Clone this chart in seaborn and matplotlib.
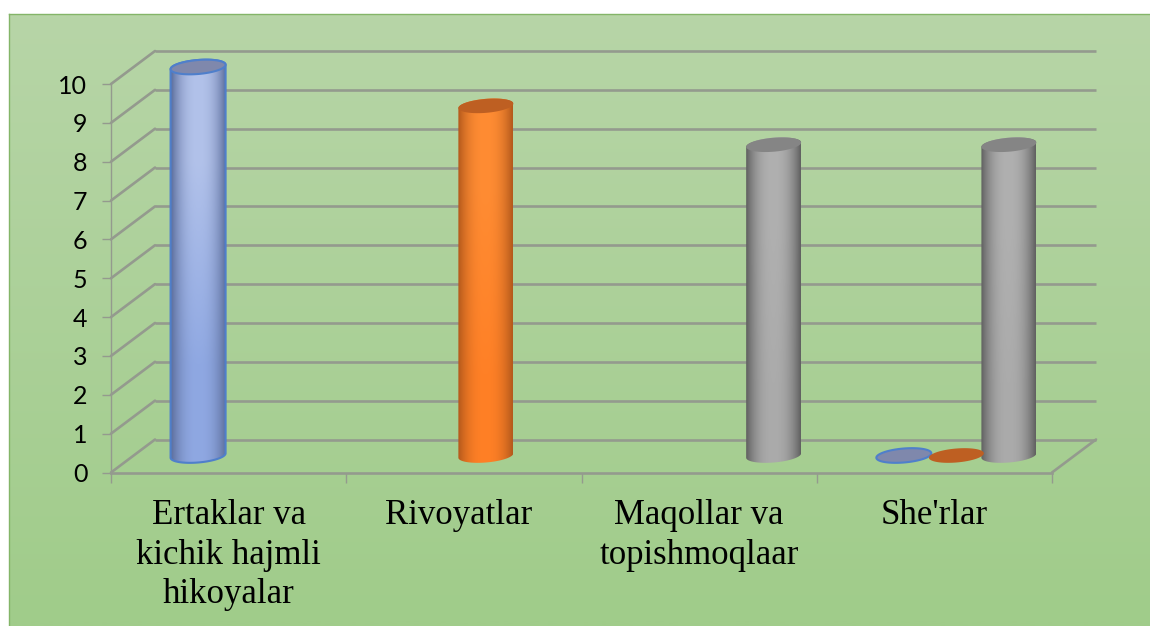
import numpy as np
import pandas as pd
import matplotlib
matplotlib.use('Agg')
import matplotlib.pyplot as plt
from matplotlib.colors import to_rgb
from matplotlib.patches import Polygon
from matplotlib.transforms import Affine2D, IdentityTransform
import seaborn as sns

categories = ["Ertaklar va\nkichik hajmli\nhikoyalar", "Rivoyatlar", "Maqollar va\ntopishmoqlaar", "She'rlar"]
series_names = ["Qator 1", "Qator 2", "Qator 3"]
series_1 = [10, np.nan, np.nan, 0]
series_2 = [np.nan, 9, np.nan, 0]
series_3 = [np.nan, np.nan, 8, 8]
y_ticks = list(range(11))

# center colour top, center colour bottom, side colour, cap colour, outline
bar_styles = [
    ("#B2C2EA", "#8FA8E2", "#5F719F", "#7F88AC", "#4F7FCB"),
    ("#FF8C33", "#FF8026", "#B55A1C", "#BE5F22", "none"),
    ("#B0B0B0", "#ABABAB", "#626262", "#858585", "none"),
]
grid_col = "#949A8E"

W, H = 1150, 626
sns.set_theme(style="white")
plt.rcParams['font.family'] = ['Lato', 'DejaVu Sans']

df = pd.DataFrame({
    "kategoriya": categories * 3,
    "qator": np.repeat(series_names, 4),
    "qiymat": series_1 + series_2 + series_3,
})

fig = plt.figure(figsize=(W / 100, H / 100), dpi=100, facecolor="white")

# green panel behind the chart
bg = fig.add_axes([8.5 / W, 0, 1 - 8.5 / W, (H - 13.5) / H], zorder=-1)
top_c = np.array(to_rgb("#B7D5A7"))
bot_c = np.array(to_rgb("#A0CC8A"))
grad = np.linspace(0, 1, 64)[:, None, None] * (bot_c - top_c) + top_c
bg.imshow(grad, aspect="auto", interpolation="bilinear")
bg.set_xticks([])
bg.set_yticks([])
for side in ["right", "bottom"]:
    bg.spines[side].set_visible(False)
for side in ["left", "top"]:
    bg.spines[side].set_color("#84B568")
    bg.spines[side].set_linewidth(1.0)

ax = fig.add_axes([111 / W, (H - 472.5) / H, 941 / W, 388.5 / H], zorder=1)
ax.patch.set_visible(False)
sns.barplot(data=df, x="kategoriya", y="qiymat", hue="qator", hue_order=series_names,
            order=categories, width=0.67, ax=ax, legend=False)
ax.set_xlim(-0.5, 3.5)
ax.set_ylim(0, 10)

back = 44, 33     # depth of the back wall, pixels
mid = 22, 17      # where the cylinders stand
shift = ax.transData + Affine2D().translate(*back)
px = IdentityTransform()

# back wall lines and the slanted ones to the front
ax.hlines(y_ticks, -0.5, 3.5, transform=shift, color=grid_col, lw=1.9, clip_on=False, zorder=1)
for v in y_ticks:
    x0, y0 = ax.transData.transform((-0.5, v))
    ax.plot([x0, x0 + back[0]], [y0, y0 + back[1]], transform=px, color=grid_col,
            lw=1.9, clip_on=False, zorder=1, scalex=False, scaley=False)
x0, y0 = ax.transData.transform((3.5, 0))
ax.plot([x0, x0 + back[0]], [y0, y0 + back[1]], transform=px, color=grid_col,
        lw=1.9, clip_on=False, zorder=1, scalex=False, scaley=False)


def half_ellipse(cx, cy, rx, ry, start, stop):
    t = np.linspace(start, stop, 60)
    xs = cx + rx * np.cos(t)
    ys = cy + ry * np.sin(t) + 0.08 * rx * np.cos(t)
    return np.column_stack([xs, ys])


rx, ry = 27.5, 7
u = np.linspace(-1, 1, 41)
prof = (1 - np.abs(u) ** 2.4)[None, :, None]
for cont, (c_top, c_bot, c_side, c_cap, c_edge) in zip(ax.containers, bar_styles):
    for bar in cont:
        bar.set_alpha(0)
        cx, base = ax.transData.transform((bar.get_x() + bar.get_width() / 2, 0))
        _, top = ax.transData.transform((0, bar.get_height()))
        cx, base, top = cx + mid[0], base + mid[1], top + mid[1]
        if bar.get_height() > 0:
            # horizontal shading of the cylinder, clipped to its outline
            rows = []
            for c in (c_bot, c_top):
                a = np.array(to_rgb(c))
                b = np.array(to_rgb(c_side))
                rows.append((b + (a - b) * prof)[0])
            img = ax.imshow(np.array(rows), extent=(cx - rx, cx + rx, base - ry - 3, top + ry),
                            transform=px, aspect="auto", interpolation="bilinear",
                            origin="lower", zorder=3)
            body = np.vstack([half_ellipse(cx, base, rx, ry, np.pi, 2 * np.pi),
                              half_ellipse(cx, top, rx, ry, 0, np.pi)])
            outline = Polygon(body, closed=True, transform=px, fill=False, edgecolor=c_edge,
                              lw=1.5, clip_on=False, zorder=4)
            ax.add_patch(outline)
            img.set_clip_box(fig.bbox)
            img.set_clip_path(outline)
        cap = Polygon(half_ellipse(cx, top, rx, ry, 0, 2 * np.pi), closed=True, transform=px,
                      facecolor=c_cap, edgecolor=c_edge, lw=1.5, clip_on=False, zorder=5)
        ax.add_patch(cap)

ax.set_xlim(-0.5, 3.5)
ax.set_ylim(0, 10)
ax.set_aspect("auto")
ax.set_xlabel("")
ax.set_ylabel("")

ax.set_yticks(y_ticks)
ax.set_xticks([-0.5, 0.5, 1.5, 2.5, 3.5], labels=[""] * 5)
ax.tick_params(axis="y", length=6.5, width=1.0, color=grid_col, labelsize=18, pad=10.5,
               labelcolor="black", left=True)
ax.tick_params(axis="x", length=7.5, width=1.0, color=grid_col, bottom=True)
label_nudge = [0, -5, 0, 0]
for i, lab in enumerate(categories):
    x_t, y_t = ax.transData.transform((i, 0))
    ax.text(x_t + label_nudge[i], y_t - 27, lab, transform=px, ha="center", va="top", fontsize=25,
            family=["Liberation Serif"], color="black", linespacing=1.245, clip_on=False)

for side in ["top", "right"]:
    ax.spines[side].set_visible(False)
ax.spines["left"].set_color(grid_col)
ax.spines["left"].set_linewidth(1.0)
ax.spines["bottom"].set_color(grid_col)
ax.spines["bottom"].set_linewidth(1.9)

fig.savefig("out.png", dpi=100)
